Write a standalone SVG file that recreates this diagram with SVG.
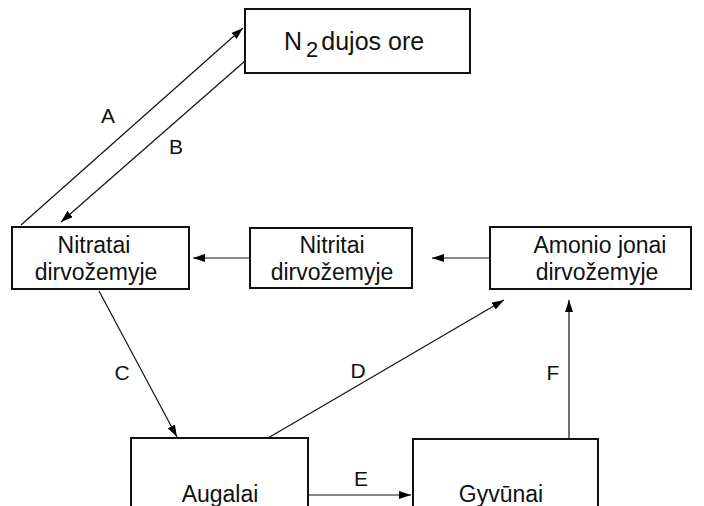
<svg xmlns="http://www.w3.org/2000/svg" width="704" height="506" viewBox="0 0 704 506">
<defs>
<marker id="ah" viewBox="0 0 12 8" refX="12" refY="4" markerWidth="12" markerHeight="8" markerUnits="userSpaceOnUse" orient="auto">
<path d="M0,0 L12,4 L0,8 Z" fill="#000"/>
</marker>
<style>
.box{fill:#fff;stroke:#111;stroke-width:2}
.t{font-family:"Liberation Sans",Arial,sans-serif;font-size:23px;fill:#111;text-anchor:middle}
.l{font-family:"Liberation Sans",Arial,sans-serif;font-size:21px;fill:#111;text-anchor:middle}
.c{stroke:#111;stroke-width:1.2;fill:none;marker-end:url(#ah)}
</style>
</defs>
<rect width="704" height="506" fill="#fff"/>
<g id="n2">
<rect class="box" x="245" y="9" width="225" height="64"/>
<text class="t" x="284" y="50" style="text-anchor:start;font-size:25px">N<tspan font-size="22" dx="4" dy="7">2</tspan><tspan dx="3" dy="-7">dujos ore</tspan></text>
</g>
<g id="nitratai">
<rect class="box" x="12" y="227" width="177" height="62"/>
<text class="t" x="94" y="253">Nitratai</text>
<text class="t" x="96" y="280">dirvožemyje</text>
</g>
<g id="nitritai">
<rect class="box" x="250" y="228" width="162" height="60"/>
<text class="t" x="332" y="253">Nitritai</text>
<text class="t" x="332" y="280">dirvožemyje</text>
</g>
<g id="amonio">
<rect class="box" x="490" y="227" width="201" height="62"/>
<text class="t" x="600" y="253">Amonio jonai</text>
<text class="t" x="597" y="280">dirvožemyje</text>
</g>
<g id="augalai">
<rect class="box" x="131" y="438" width="177" height="72"/>
<text class="t" x="220" y="502">Augalai</text>
</g>
<g id="gyvunai">
<rect class="box" x="413" y="439" width="185" height="72"/>
<text class="t" x="501" y="502">Gyvūnai</text>
</g>
<g id="connectors">
<line class="c" x1="21" y1="225" x2="243" y2="28"/>
<line class="c" x1="245" y1="61" x2="61" y2="222"/>
<line class="c" x1="250" y1="258" x2="193" y2="258"/>
<line class="c" x1="490" y1="258" x2="432" y2="258"/>
<line class="c" x1="99" y1="291" x2="177" y2="437"/>
<line class="c" x1="268" y1="438" x2="504" y2="300"/>
<line class="c" x1="308" y1="495" x2="411" y2="495"/>
<line class="c" x1="569" y1="439" x2="569" y2="300"/>
<text class="l" x="108" y="123">A</text>
<text class="l" x="176" y="154">B</text>
<text class="l" x="122" y="380">C</text>
<text class="l" x="358" y="378">D</text>
<text class="l" x="361" y="486">E</text>
<text class="l" x="553" y="380">F</text>
</g>
</svg>
